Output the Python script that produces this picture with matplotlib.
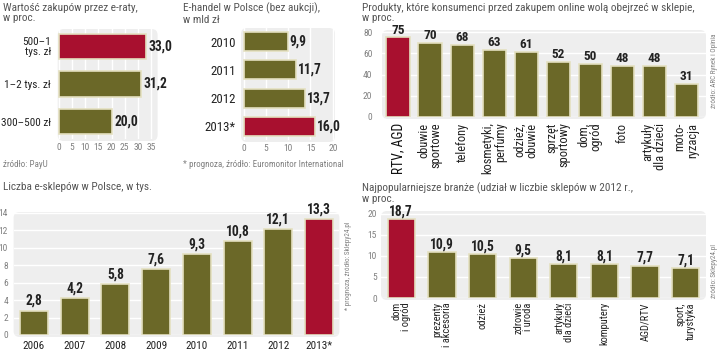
import matplotlib
matplotlib.use("Agg")
import matplotlib.pyplot as plt
from matplotlib import font_manager as fm
from matplotlib.patches import FancyBboxPatch
from matplotlib.transforms import IdentityTransform

# --- data ---
raty_labels = ["500–1\ntys. zł", "1–2 tys. zł", "300–500 zł"]
raty_vals = [33.0, 31.2, 20.0]

ehandel_years = ["2010", "2011", "2012", "2013*"]
ehandel_vals = [9.9, 11.7, 13.7, 16.0]

produkty_labels = ["RTV, AGD", "obuwie\nsportowe", "telefony", "kosmetyki,\nperfumy",
                   "odzież,\nobuwie", "sprzęt\nsportowy", "dom,\nogród", "foto",
                   "artykuły\ndla dzieci", "moto-\nryzacja"]
produkty_vals = [75, 70, 68, 63, 61, 52, 50, 48, 48, 31]

sklepy_years = ["2006", "2007", "2008", "2009", "2010", "2011", "2012", "2013*"]
sklepy_vals = [2.8, 4.2, 5.8, 7.6, 9.3, 10.8, 12.1, 13.3]

branze_labels = ["dom\ni ogród", "prezenty\ni akcesoria", "odzież", "zdrowie\ni uroda",
                 "artykuły\ndla dzieci", "komputery", "AGD/RTV", "sport,\nturystyka"]
branze_vals = [18.7, 10.9, 10.5, 9.5, 8.1, 8.1, 7.7, 7.1]

OLIVE = "#6b6828"
RED = "#a8102f"
HALO = "#e4e0c0"
BG = "#eeeeee"
TXT = "#222222"
GREY = "#808080"

# pick a narrow font if one is installed
_fonts = fm.fontManager.ttflist
_names = {f.name for f in _fonts}
if "Liberation Sans Narrow" in _names:
    FONT = dict(family="Liberation Sans Narrow")
elif "Roboto Condensed" in _names:
    FONT = dict(family="Roboto Condensed")
elif any(f.name == "DejaVu Sans" and "Condensed" in f.fname for f in _fonts):
    FONT = dict(family="DejaVu Sans", fontstretch="condensed")
else:
    FONT = dict(family="Roboto")

W, H = 720, 353
fig = plt.figure(figsize=(W / 100, H / 100), dpi=100)
fig.patch.set_facecolor("white")
renderer = fig.canvas.get_renderer()


def fit(s, target_px, weight="normal"):
    # font size that makes string s about target_px wide
    t = fig.text(0, 0, s, fontsize=10, fontweight=weight, **FONT)
    w = t.get_window_extent(renderer).width
    t.remove()
    return 10 * target_px / w


TITLE = fit("Produkty, które konsumenci przed zakupem online wolą obejrzeć w sklepie,", 331)
NOTE = fit("* prognoza, źródło: Euromonitor International", 160)
VAL = fit("12,1", 24, "bold")
VAL3 = fit("63", 13.5, "bold")
CAT1 = fit("1–2 tys. zł", 46)
CAT2 = fit("2010", 25)
YEAR = fit("2006", 22)
ROT = fit("kosmetyki,", 52)
ROT5 = fit("komputery", 43)
SRC = fit("źródło: ARC Rynek i Opinia", 74)
TICK = 6.8


def px_axes(x0, y0, x1, y1):
    bg = FancyBboxPatch((x0, H - y1 - 2), x1 - x0, y1 - y0 + 2,
                        boxstyle="round,pad=0,rounding_size=6", transform=IdentityTransform(),
                        facecolor=BG, edgecolor="none", zorder=-5)
    fig.add_artist(bg)
    ax = fig.add_axes([x0 / W, 1 - y1 / H, (x1 - x0) / W, (y1 - y0) / H])
    ax.set_facecolor("none")
    for s in ax.spines.values():
        s.set_visible(False)
    ax.tick_params(length=0, labelsize=TICK, labelcolor=GREY)
    return ax


def ftext(x, y, s, **kw):
    return fig.text(x / W, 1 - y / H, s, **FONT, **kw)


def fmt(v):
    return f"{v:.1f}".replace(".", ",")


def tick_font(ax):
    for lab in ax.get_xticklabels() + ax.get_yticklabels():
        lab.set_fontfamily(FONT["family"])
        if "fontstretch" in FONT:
            lab.set_fontstretch(FONT["fontstretch"])


title_kw = dict(fontsize=TITLE, color="#555555", va="top", ha="left", linespacing=1.05)

# --- panel 1: e-raty ---
ax1 = px_axes(57.7, 29, 157.6, 139)
cols = [RED, OLIVE, OLIVE]
ax1.barh(range(3), raty_vals, height=0.66, color=cols, edgecolor=HALO, linewidth=1.2, zorder=3)
ax1.set_xlim(-0.5, 37.5)
ax1.set_ylim(2.45, -0.45)
ax1.set_xticks(range(0, 36, 5))
ax1.set_yticks(range(3))
ax1.set_yticklabels(raty_labels, fontsize=CAT1, color=TXT, ha="right", linespacing=1.0)
ax1.tick_params(axis="y", pad=5)
ax1.tick_params(axis="x", pad=3)
ax1.grid(axis="x", color="white", linewidth=1, zorder=1)
tick_font(ax1)
for i, v in enumerate(raty_vals):
    ax1.text(v + 1.0, i, fmt(v), va="center", ha="left", fontsize=VAL,
             fontweight="bold", color=TXT, **FONT)
ftext(3, 3, "Wartość zakupów przez e-raty,\nw proc.", **title_kw)
ftext(3, 165, "źródło: PayU", fontsize=NOTE, color=GREY, va="center")

# --- panel 2: e-handel ---
ax2 = px_axes(241, 28, 335, 140)
cols = [OLIVE, OLIVE, OLIVE, RED]
ax2.barh(range(4), ehandel_vals, height=0.67, color=cols, edgecolor=HALO, linewidth=1.2, zorder=3)
ax2.set_xlim(-0.6, 20.5)
ax2.set_ylim(3.48, -0.48)
ax2.set_xticks(range(0, 21, 5))
ax2.set_yticks(range(4))
ax2.set_yticklabels(ehandel_years, fontsize=CAT2, color=TXT)
ax2.tick_params(axis="y", pad=4)
ax2.tick_params(axis="x", pad=3)
ax2.grid(axis="x", color="white", linewidth=1, zorder=1)
tick_font(ax2)
for i, v in enumerate(ehandel_vals):
    ax2.text(v + 0.45, i, fmt(v), va="center", ha="left", fontsize=VAL,
             fontweight="bold", color=TXT, **FONT)
ftext(183, 3, "E-handel w Polsce (bez aukcji),\nw mld zł", **title_kw)
ftext(183, 165, "* prognoza, źródło: Euromonitor International", fontsize=NOTE,
      color=GREY, va="center")

# --- panel 3: produkty ---
ax3 = px_axes(382, 30, 706, 117)
cols = [RED] + [OLIVE] * (len(produkty_vals) - 1)
ax3.bar(range(len(produkty_vals)), produkty_vals, width=0.72, color=cols,
        edgecolor=HALO, linewidth=1.2, zorder=3)
ax3.set_xlim(-0.5, 9.62)
ax3.set_ylim(0, 82)
ax3.set_yticks(range(0, 81, 20))
ax3.set_xticks([])
ax3.tick_params(axis="y", pad=7)
ax3.grid(axis="y", color="white", linewidth=1, zorder=1)
tick_font(ax3)
for i, v in enumerate(produkty_vals):
    ax3.text(i, v + 0.8, str(v), ha="center", va="bottom", fontsize=VAL3,
             fontweight="bold", color=TXT, **FONT)
for i, lab in enumerate(produkty_labels):
    ax3.annotate(lab, (i, 0), xytext=(0, -4), textcoords="offset points", rotation=90,
                 rotation_mode="anchor", ha="right", va="center", multialignment="right",
                 fontsize=ROT * (1.1 if i == 0 else 1.0), color="#111111" if i == 0 else TXT,
                 linespacing=0.95, annotation_clip=False, **FONT)
ftext(362, 3, "Produkty, które konsumenci przed zakupem online wolą obejrzeć w sklepie,\nw proc.",
      **title_kw)
ftext(714, 33, "źródło: ARC Rynek i Opinia", rotation=90, rotation_mode="anchor",
      ha="right", va="center", fontsize=SRC, color=GREY)

# --- panel 4: liczba e-sklepów ---
ax4 = px_axes(13.6, 212, 339.4, 335)
cols = [OLIVE] * (len(sklepy_vals) - 1) + [RED]
ax4.bar(range(len(sklepy_vals)), sklepy_vals, width=0.69, color=cols,
        edgecolor=HALO, linewidth=1.2, zorder=3)
ax4.set_xlim(-0.5, 7.5)
ax4.set_ylim(0, 14.1)
ax4.set_yticks(range(0, 15, 2))
ax4.set_xticks(range(len(sklepy_years)))
ax4.set_xticklabels(sklepy_years, fontsize=YEAR, color=TXT)
ax4.tick_params(axis="y", pad=4)
ax4.tick_params(axis="x", pad=4)
ax4.grid(axis="y", color="white", linewidth=1, zorder=1)
tick_font(ax4)
for i, v in enumerate(sklepy_vals):
    ax4.text(i, v + 0.3, fmt(v), ha="center", va="bottom", fontsize=VAL,
             fontweight="bold", color=TXT, **FONT)
ftext(3, 182, "Liczba e-sklepów w Polsce, w tys.", **title_kw)
ftext(349, 222, "* prognoza, źródło: Sklepy24.pl", rotation=90, rotation_mode="anchor",
      ha="right", va="center", fontsize=SRC, color=GREY)

# --- panel 5: branże ---
ax5 = px_axes(381, 211, 706, 298)
cols = [RED] + [OLIVE] * (len(branze_vals) - 1)
ax5.bar(range(len(branze_vals)), branze_vals, width=0.67, color=cols,
        edgecolor=HALO, linewidth=1.2, zorder=3)
ax5.set_xlim(-0.5, 7.5)
ax5.set_ylim(0, 20.7)
ax5.set_yticks(range(0, 21, 5))
ax5.set_xticks([])
ax5.tick_params(axis="y", pad=3)
ax5.grid(axis="y", color="white", linewidth=1, zorder=1)
tick_font(ax5)
for i, v in enumerate(branze_vals):
    ax5.text(i, v + 0.15, fmt(v), ha="center", va="bottom", fontsize=VAL,
             fontweight="bold", color=TXT, **FONT)
for i, lab in enumerate(branze_labels):
    ax5.annotate(lab, (i, 0), xytext=(0, -3), textcoords="offset points", rotation=90,
                 rotation_mode="anchor", ha="right", va="center", multialignment="right",
                 fontsize=ROT5, color=TXT, linespacing=0.95, annotation_clip=False, **FONT)
ftext(362, 182, "Najpopularniejsze branże (udział w liczbie sklepów w 2012 r.,\nw proc.",
      **title_kw)
ftext(715, 244, "źródło: Sklepy24.pl", rotation=90, rotation_mode="anchor",
      ha="right", va="center", fontsize=SRC, color=GREY)

fig.savefig("out.png", dpi=100)
